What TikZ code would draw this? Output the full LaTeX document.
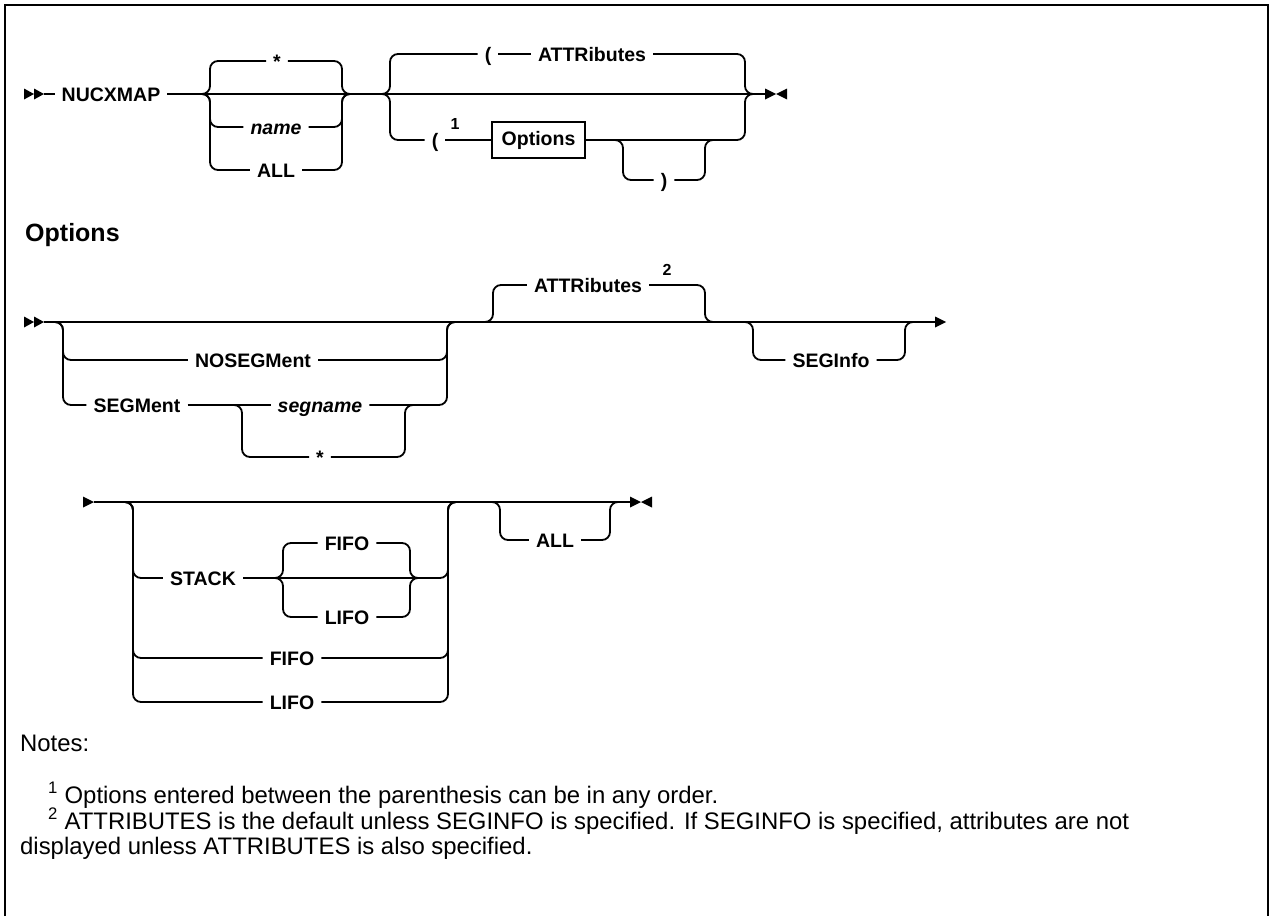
\documentclass[tikz,border=0pt]{standalone}
\usepackage{fontspec}
\setmainfont{Liberation Sans}
\newcommand{\railfont}{\fontsize{19.5}{23}\selectfont\bfseries}
\tikzset{
  rail/.style={line width=1.8pt,rounded corners=8pt},
  kw/.style={font=\railfont,text height=14pt,text depth=0pt,inner xsep=7pt,inner ysep=0pt},
  var/.style={kw,font=\railfont\itshape},
  supnum/.style={font=\fontsize{16}{18}\selectfont\bfseries,inner sep=0pt},
  optbox/.style={draw,line width=1.6pt,font=\railfont,minimum width=93pt,minimum height=36pt,inner sep=0pt},
  head/.style={font=\fontsize{25}{28}\selectfont\bfseries,anchor=base west,inner sep=0pt},
  note/.style={font=\fontsize{23.9}{28}\selectfont,anchor=base west,inner sep=0pt},
  pics/railbegin/.style={code={\fill (-20,-5.5) -- (-10,0) -- (-20,5.5) -- cycle; \fill (-10,-5.5) -- (0,0) -- (-10,5.5) -- cycle;}},
  pics/railend/.style={code={\fill (0,-5.5) -- (11,0) -- (0,5.5) -- cycle; \fill (22,-5.5) -- (11,0) -- (22,5.5) -- cycle;}},
  pics/railcont/.style={code={\fill (0,-5.5) -- (11,0) -- (0,5.5) -- cycle;}},
  pics/railresume/.style={code={\fill (-11,-5.5) -- (0,0) -- (-11,5.5) -- cycle;}},
}
\begin{document}
\begin{tikzpicture}[x=1pt,y=-1pt]
  \useasboundingbox (0,0) rectangle (1273,916);
  \draw[line width=1.8pt] (5,916) -- (5,5) -- (1268,5) -- (1268,916);

  % NUCXMAP
  \coordinate (s1) at (44,94);
  \coordinate (e1) at (765,94);
  \pic at (s1) {railbegin};
  \pic at (e1) {railend};
  \node[kw] (nucx) at (111,94) {NUCXMAP};
  \draw[rail] (s1) -- (nucx.west);
  \draw[rail] (nucx.east) -- (e1);

  \coordinate (g1l) at (210,94);
  \coordinate (g1r) at (342,94);
  \node[kw] (star1) at (277,61) {*};
  \node[var] (name1) at (276,127) {name};
  \node[kw] (all1) at (276,170) {ALL};
  \foreach \n in {star1,name1,all1}{
    \draw[rail] ([xshift=-10pt]g1l) -- (g1l) |- (\n.west);
    \draw[rail] (\n.east) -| (g1r) -- ([xshift=10pt]g1r);
  }

  \coordinate (g2l) at (390,94);
  \coordinate (g2r) at (745,94);
  \node[kw] (lpar1) at (488,54) {(};
  \node[kw] (attr1) at (592,54) {ATTRibutes};
  \draw[rail] ([xshift=-10pt]g2l) -- (g2l) |- (lpar1.west);
  \draw[rail] (lpar1.east) -- (attr1.west);
  \draw[rail] (attr1.east) -| (g2r) -- ([xshift=10pt]g2r);
  \node[kw] (lpar2) at (435,140) {(};
  \node[supnum] (sup1) at (455,124) {1};
  \node[optbox] (opts) at (538.5,140) {Options};
  \draw[rail] ([xshift=-10pt]g2l) -- (g2l) |- (lpar2.west);
  \draw[rail] (lpar2.east) -- (opts.west);
  \draw[rail] (opts.east) -| (g2r) -- ([xshift=10pt]g2r);
  \coordinate (g3l) at (623,140);
  \coordinate (g3r) at (705,140);
  \node[kw] (rpar) at (664,180) {)};
  \draw[rail] ([xshift=-10pt]g3l) -- (g3l) |- (rpar.west);
  \draw[rail] (rpar.east) -| (g3r) -- ([xshift=10pt]g3r);

  % Options
  \node[head] (opthd) at (25,241) {Options};
  \coordinate (s2) at (44,322);
  \coordinate (c1) at (935,322);
  \pic at (s2) {railbegin};
  \pic at (c1) {railcont};
  \draw[rail] (s2) -- (c1);

  \coordinate (gal) at (63,322);
  \coordinate (gar) at (447,322);
  \node[kw] (noseg) at (253,360) {NOSEGMent};
  \node[kw] (segm) at (137,405) {SEGMent};
  \node[var] (segn) at (320,405) {segname};
  \node[kw] (star2) at (320,457) {*};
  \draw[rail] ([xshift=-10pt]gal) -- (gal) |- (noseg.west);
  \draw[rail] (noseg.east) -| (gar) -- ([xshift=10pt]gar);
  \draw[rail] ([xshift=-10pt]gal) -- (gal) |- (segm.west);
  \draw[rail] (segm.east) -- (segn.west);
  \draw[rail] (segn.east) -| (gar) -- ([xshift=10pt]gar);
  \coordinate (gbl) at (242,405);
  \coordinate (gbr) at (405,405);
  \draw[rail] ([xshift=-10pt]gbl) -- (gbl) |- (star2.west);
  \draw[rail] (star2.east) -| (gbr) -- ([xshift=10pt]gbr);

  \coordinate (gcl) at (493,322);
  \coordinate (gcr) at (705,322);
  \node[kw] (attr2) at (588,285) {ATTRibutes};
  \node[supnum] (sup2) at (667,270) {2};
  \draw[rail] ([xshift=-10pt]gcl) -- (gcl) |- (attr2.west);
  \draw[rail] (attr2.east) -| (gcr) -- ([xshift=10pt]gcr);

  \coordinate (gdl) at (753,322);
  \coordinate (gdr) at (905,322);
  \node[kw] (segi) at (831,360) {SEGInfo};
  \draw[rail] ([xshift=-10pt]gdl) -- (gdl) |- (segi.west);
  \draw[rail] (segi.east) -| (gdr) -- ([xshift=10pt]gdr);

  \coordinate (s3) at (94,502);
  \coordinate (e2) at (630,502);
  \pic at (s3) {railresume};
  \pic at (e2) {railend};
  \draw[rail] (s3) -- (e2);

  \coordinate (gel) at (133,502);
  \coordinate (ger) at (448,502);
  \node[kw] (stack) at (203,578) {STACK};
  \node[kw] (fifo2) at (292,658) {FIFO};
  \node[kw] (lifo2) at (292,702) {LIFO};
  \foreach \n in {stack,fifo2,lifo2}{
    \draw[rail] ([xshift=-10pt]gel) -- (gel) |- (\n.west);
    \draw[rail] (\n.east) -| (ger) -- ([xshift=10pt]ger);
  }
  \coordinate (gfl) at (283,578);
  \coordinate (gfr) at (410,578);
  \node[kw] (fifo1) at (347,543) {FIFO};
  \node[kw] (lifo1) at (347,617) {LIFO};
  \foreach \n in {fifo1,lifo1}{
    \draw[rail] ([xshift=-10pt]gfl) -- (gfl) |- (\n.west);
    \draw[rail] (\n.east) -| (gfr) -- ([xshift=10pt]gfr);
  }

  \coordinate (ggl) at (500,502);
  \coordinate (ggr) at (610,502);
  \node[kw] (all2) at (555,540) {ALL};
  \draw[rail] ([xshift=-10pt]ggl) -- (ggl) |- (all2.west);
  \draw[rail] (all2.east) -| (ggr) -- ([xshift=10pt]ggr);

  % notes
  \node[note] (notes) at (20,751) {Notes:};
  \node[note] (n1) at (48,803) {\textsuperscript{1} Options entered between the parenthesis can be in any order.};
  \node[note] (n2) at (48,829) {\textsuperscript{2} ATTRIBUTES is the default unless SEGINFO is specified. If SEGINFO is specified, attributes are not};
  \node[note] (n3) at (20,854) {displayed unless ATTRIBUTES is also specified.};
\end{tikzpicture}
\end{document}
